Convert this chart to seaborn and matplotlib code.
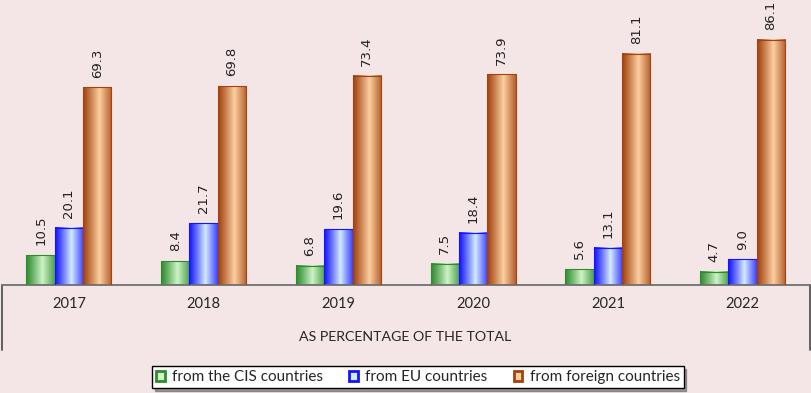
import numpy as np
import pandas as pd
import matplotlib
matplotlib.use("Agg")
import matplotlib.pyplot as plt
import seaborn as sns
from matplotlib.colors import to_rgb
from matplotlib.patches import Patch

# ──────────────────────────────
# Data
# ──────────────────────────────
years = ["2017", "2018", "2019", "2020", "2021", "2022"]
series = ["from the CIS countries", "from EU countries", "from foreign countries"]
cis = [10.5, 8.4, 6.8, 7.5, 5.6, 4.7]
eu = [20.1, 21.7, 19.6, 18.4, 13.1, 9.0]
foreign = [69.3, 69.8, 73.4, 73.9, 81.1, 86.1]
axis_caption = "AS PERCENTAGE OF THE TOTAL"

BG = "#F4E5E7"
# (dark edge, light centre) for the cylinder-like shading
shades = {
    series[0]: ("#2e8b2e", "#cdf5c6"),
    series[1]: ("#1414ff", "#d4ecff"),
    series[2]: ("#a2420f", "#fdd0a2"),
}

df = pd.DataFrame({
    "year": years * 3,
    "series": [series[0]] * 6 + [series[1]] * 6 + [series[2]] * 6,
    "value": cis + eu + foreign,
})

sns.set_style("white")
plt.rcParams["font.family"] = ["Lato", "DejaVu Sans"]

fig = plt.figure(figsize=(8.12, 3.93), dpi=100, facecolor=BG)
ax = fig.add_axes([1.5 / 812, 1 - 285 / 393, 808.5 / 812, 285 / 393])
ax.set_facecolor(BG)

sns.barplot(data=df, x="year", y="value", hue="series", hue_order=series,
            palette=[shades[s][0] for s in series], width=0.63, gap=0,
            legend=False, ax=ax, zorder=3)

# gradient fill for each bar
t = np.linspace(0, 1, 64)
prof = np.clip(1 - np.abs(t - 0.57) / 0.57, 0, 1) ** 1.1
for name, cont in zip(series, ax.containers):
    dark, light = np.array(to_rgb(shades[name][0])), np.array(to_rgb(shades[name][1]))
    grad = dark[None, :] * (1 - prof[:, None]) + light[None, :] * prof[:, None]
    for p in cont.patches:
        x0, y0 = p.get_x(), p.get_y()
        ax.imshow(grad[None, :, :], extent=[x0, x0 + p.get_width(), y0, y0 + p.get_height()],
                  aspect="auto", zorder=2, interpolation="bilinear")
        p.set_facecolor("none")
        p.set_edgecolor(shades[name][0])
        p.set_linewidth(0.8)
    ax.bar_label(cont, fmt="%.1f", rotation=90, padding=7, fontsize=9.5,
                 family="DejaVu Sans", color="#222222")

ax.set_xlim(-0.5, 5.5)
ax.set_ylim(0, 100)
ax.set_yticks([])
ax.set_xlabel("")
ax.set_ylabel("")
for s in ["top", "left", "right"]:
    ax.spines[s].set_visible(False)
ax.spines["bottom"].set_color("#707070")
ax.spines["bottom"].set_linewidth(1.3)

# separators between categories + year labels
ax.set_xticks([0.5, 1.5, 2.5, 3.5, 4.5])
ax.set_xticklabels([])
ax.tick_params(axis="x", which="major", length=24, width=1.3, color="#707070", direction="out")
ax.set_xticks(range(len(years)), minor=True)
ax.set_xticklabels(years, minor=True, fontsize=10.5)
ax.tick_params(axis="x", which="minor", length=0, pad=8.5)

# outer frame lines below the axis
for xe in (-0.5, 5.5):
    ax.plot([xe, xe], [0, -65 / 2.85], color="#555555", lw=1.3, clip_on=False)

fig.text(405 / 812, 1 - 337 / 393, axis_caption, ha="center", va="center", fontsize=10.2)

handles = [Patch(facecolor=shades[s][1], edgecolor=shades[s][0], linewidth=2) for s in series]
leg = fig.legend(handles, series, loc="center", bbox_to_anchor=(418 / 812, 1 - 377 / 393),
                 ncol=3, frameon=True, fancybox=False, shadow=True, fontsize=11,
                 handlelength=0.55, handleheight=0.65, handletextpad=0.5,
                 columnspacing=1.7, borderpad=0.25, borderaxespad=0)
leg.get_frame().set_edgecolor("black")
leg.get_frame().set_facecolor("white")
leg.get_frame().set_linewidth(1.0)

fig.savefig("out.png", dpi=100, facecolor=BG)
